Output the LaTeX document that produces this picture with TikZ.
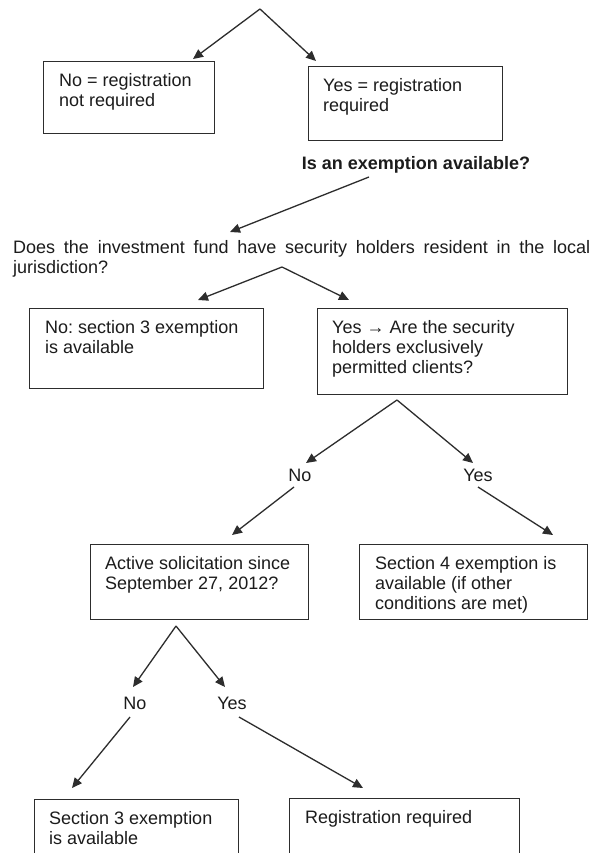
\documentclass[tikz,border=0pt]{standalone}
\usepackage{fontspec}
\setmainfont{Liberation Sans}
\usetikzlibrary{arrows.meta}
\definecolor{ink}{RGB}{28,28,28}
\definecolor{edge}{RGB}{45,45,45}
\frenchspacing
\begin{document}
\begin{tikzpicture}[x=1pt,y=-1pt,
  box/.style={draw=edge, line width=1.4pt, inner sep=0pt, anchor=north west},
  txt/.style={anchor=north west, align=left, inner sep=0pt, text=ink, font=\frenchspacing\fontsize{18}{20}\selectfont},
  lbl/.style={anchor=base, inner sep=0pt, text=ink, font=\fontsize{18}{20}\selectfont},
  arr/.style={draw=edge, line width=1.3pt, -{Triangle[length=10pt,width=9pt]}}]
\fill[white] (0,0) rectangle (596,853);
\useasboundingbox (0,0) rectangle (596,853);

% boxes
\node[box, minimum width=171pt, minimum height=72pt] (b1) at (43,61) {};
\node[box, minimum width=194pt, minimum height=74pt] (b2) at (308,66) {};
\node[box, minimum width=234pt, minimum height=80pt] (b3) at (29,308) {};
\node[box, minimum width=250pt, minimum height=86pt] (b4) at (317,308) {};
\node[box, minimum width=218pt, minimum height=75pt] (b5) at (90,544) {};
\node[box, minimum width=228pt, minimum height=75pt] (b6) at (359,544) {};
\node[box, minimum width=204pt, minimum height=100pt] (b7) at (34,799) {};
\node[box, minimum width=230pt, minimum height=100pt] (b8) at (289,798) {};

% box texts
\node[txt] (t1) at (59,73) {No = registration\\not required};
\node[txt] (t2) at (323,78) {Yes = registration\\required};
\node[txt] (t3) at (45,320) {No: section 3 exemption\\is available};
\node[txt] (t4) at (332,320) {Yes \textrightarrow{} Are the security\\holders exclusively\\permitted clients?};
\node[txt] (t5) at (105,556) {Active solicitation since\\September 27, 2012?};
\node[txt] (t6) at (375,556) {Section 4 exemption is\\available (if other\\conditions are met)};
\node[txt] (t7) at (49,811) {Section 3 exemption\\is available};
\node[txt] (t8) at (305,810) {Registration required};

% free texts
\node[lbl, font=\bfseries\fontsize{18}{20}\selectfont] (ex) at (416,169) {Is an exemption available?};
\node[txt] (q1) at (13,240) {\makebox[577pt][s]{Does the investment fund have security holders resident in the local}\\jurisdiction?};
\node[lbl] (n1) at (300,481) {No};
\node[lbl] (y1) at (478,481) {Yes};
\node[lbl] (n2) at (135,709) {No};
\node[lbl] (y2) at (232,709) {Yes};

% connector points
\coordinate (a0) at (260,9);
\coordinate (p1) at (193,59);
\coordinate (p2) at (316,61);
\coordinate (s3) at (369,177);
\coordinate (p3) at (230,232);
\coordinate (a1) at (282,267);
\coordinate (p4) at (198,300);
\coordinate (p5) at (349,300);
\coordinate (a2) at (397,400);
\coordinate (p6) at (306,463);
\coordinate (p7) at (473,463);
\coordinate (s8) at (294,487);
\coordinate (p8) at (232,535);
\coordinate (s9) at (478,487);
\coordinate (p9) at (553,535);
\coordinate (a3) at (176,626);
\coordinate (p10) at (133,687);
\coordinate (p11) at (225,687);
\coordinate (s12) at (130,717);
\coordinate (p12) at (72,788);
\coordinate (s13) at (239,717);
\coordinate (p13) at (363,788);

\draw[arr] (a0) -- (p1);
\draw[arr] (a0) -- (p2);
\draw[arr] (s3) -- (p3);
\draw[arr] (a1) -- (p4);
\draw[arr] (a1) -- (p5);
\draw[arr] (a2) -- (p6);
\draw[arr] (a2) -- (p7);
\draw[arr] (s8) -- (p8);
\draw[arr] (s9) -- (p9);
\draw[arr] (a3) -- (p10);
\draw[arr] (a3) -- (p11);
\draw[arr] (s12) -- (p12);
\draw[arr] (s13) -- (p13);
\end{tikzpicture}
\end{document}
